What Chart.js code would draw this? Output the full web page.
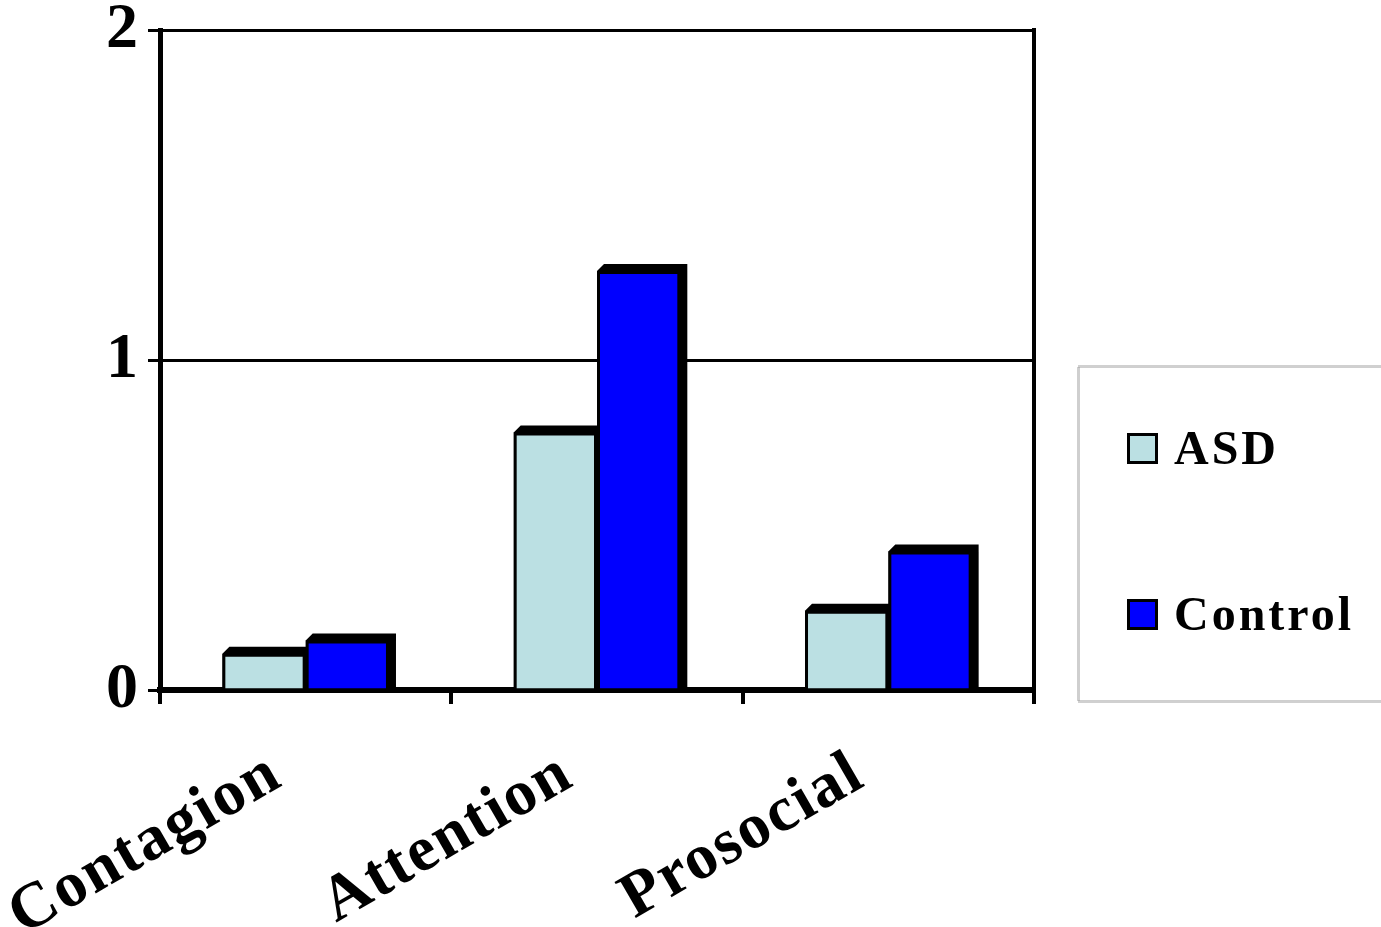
<!DOCTYPE html>
<html>
<head>
<meta charset="utf-8">
<script src="https://cdn.jsdelivr.net/npm/chart.js@4/dist/chart.umd.min.js"></script>
<style>
  html, body { margin: 0; padding: 0; background: #fff; overflow: hidden; }
  #wrap { width: 1381px; height: 927px; }
</style>
</head>
<body>
<div id="wrap"><canvas id="c" width="1381" height="927"></canvas></div>
<script>
// Mean scores per behaviour category
const categories = ['Contagion', 'Attention', 'Prosocial'];
const asdValues = [0.11, 0.78, 0.24];
const controlValues = [0.15, 1.27, 0.42];
const seriesNames = ['ASD', 'Control'];
const seriesColors = ['#bbe0e3', '#0000ff'];
const yTicks = [0, 1, 2];

const SERIF = "'Liberation Serif'";
const DEPTH = 7;

// Black extruded side/top faces behind every bar, for the 3-D block look
const extrude = {
  id: 'extrude',
  beforeDatasetsDraw(chart) {
    const ctx = chart.ctx;
    ctx.save();
    ctx.fillStyle = '#000';
    chart.data.datasets.forEach((ds, i) => {
      chart.getDatasetMeta(i).data.forEach(bar => {
        const p = bar.getProps(['x', 'y', 'base', 'width'], true);
        const x0 = p.x - p.width / 2, x1 = p.x + p.width / 2;
        ctx.beginPath();
        ctx.moveTo(x0, p.base);
        ctx.lineTo(x0, p.y);
        ctx.lineTo(x0 + DEPTH, p.y - DEPTH);
        ctx.lineTo(x1 + DEPTH, p.y - DEPTH);
        ctx.lineTo(x1 + DEPTH, p.base);
        ctx.closePath();
        ctx.fill();
      });
    });
    ctx.restore();
  }
};

// Slightly spaced lettering for all canvas text
const spacing = {
  id: 'spacing',
  beforeDraw(chart) { chart.ctx.letterSpacing = '2px'; }
};

// Framed legend to the right of the plot
const legendBox = {
  id: 'legendBox',
  afterDraw(chart) {
    const ctx = chart.ctx;
    ctx.save();
    ctx.strokeStyle = '#a0a0a0';
    ctx.lineWidth = 3;
    ctx.setLineDash([1, 1]);
    ctx.strokeRect(1078.5, 366.5, 340, 335);
    ctx.setLineDash([]);
    const rows = [449, 615];
    ctx.letterSpacing = '3px';
    chart.data.datasets.forEach((ds, i) => {
      const cy = rows[i];
      ctx.fillStyle = ds.backgroundColor;
      ctx.fillRect(1128, cy - 15, 29, 29);
      ctx.strokeStyle = '#000';
      ctx.lineWidth = 3;
      ctx.strokeRect(1128.5, cy - 14.5, 28, 28);
      ctx.fillStyle = '#000';
      ctx.font = 'bold 48px ' + SERIF;
      ctx.textBaseline = 'middle';
      ctx.textAlign = 'left';
      ctx.fillText(ds.label, 1174, cy + 3);
    });
    ctx.restore();
  }
};

function build() {
  new Chart(document.getElementById('c'), {
    type: 'bar',
    data: {
      labels: categories,
      datasets: [
        { label: seriesNames[0], data: asdValues, backgroundColor: seriesColors[0],
          borderColor: '#000', borderWidth: 3, borderSkipped: 'start' },
        { label: seriesNames[1], data: controlValues, backgroundColor: seriesColors[1],
          borderColor: '#000', borderWidth: 3, borderSkipped: 'start' }
      ]
    },
    options: {
      responsive: false,
      animation: false,
      devicePixelRatio: 1,
      categoryPercentage: 0.572,
      barPercentage: 1,
      layout: { padding: { top: 30, right: 347, bottom: 0, left: 0 } },
      plugins: { legend: { display: false }, tooltip: { enabled: false } },
      scales: {
        x: {
          grid: { offset: true, drawOnChartArea: false, color: '#000', lineWidth: 4, tickLength: 14 },
          border: { display: true, color: '#000', width: 6 },
          ticks: {
            color: '#000',
            font: { family: SERIF, size: 64, weight: 'bold', lineHeight: 1 },
            minRotation: 30, maxRotation: 30, autoSkip: false,
            padding: 38, labelOffset: -29
          },
          afterFit(s) {
            s.height = 237;
            s.paddingLeft = 0;
            s.paddingRight = 0;
          }
        },
        y: {
          min: 0, max: 2,
          afterBuildTicks(s) { s.ticks = yTicks.map(v => ({ value: v })); },
          grid: { color: '#000', lineWidth: 3, tickLength: 12 },
          border: { display: true, color: '#000', width: 5 },
          ticks: {
            color: '#000',
            font: { family: SERIF, size: 64, weight: 'bold', lineHeight: 0.65 },
            padding: 8
          },
          afterFit(s) { s.width = 160; }
        },
        y2: {
          position: 'right', min: 0, max: 2,
          grid: { display: false, drawTicks: false },
          ticks: { display: false },
          border: { display: true, color: '#000', width: 4 },
          afterFit(s) { s.width = 0; }
        }
      }
    },
    plugins: [spacing, extrude, legendBox]
  });
}

document.fonts.load("bold 48px 'Liberation Serif'").then(build, build);
</script>
</body>
</html>
